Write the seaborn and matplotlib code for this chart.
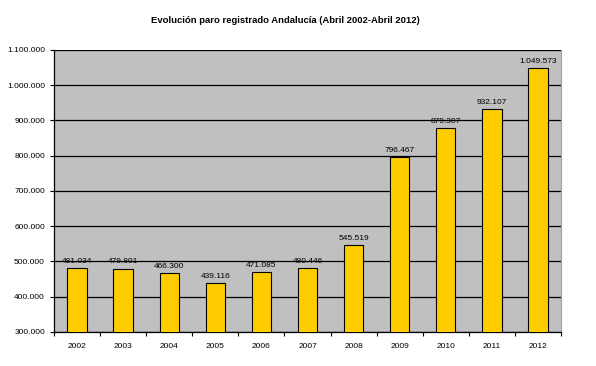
import matplotlib
matplotlib.use("Agg")
import matplotlib.pyplot as plt
import seaborn as sns
import pandas as pd
from matplotlib.ticker import FuncFormatter, MultipleLocator, FixedLocator

years = ["2002", "2003", "2004", "2005", "2006", "2007", "2008", "2009", "2010", "2011", "2012"]
paro = [481034, 479801, 466300, 439116, 471085, 480446, 545519, 796467, 879307, 932107, 1049573]

df = pd.DataFrame({"year": years, "paro": paro})

sns.set_style("white")
plt.rcParams["font.family"] = ["Liberation Sans", "DejaVu Sans"]
plt.rcParams["text.color"] = "black"
plt.rcParams["xtick.color"] = "black"
plt.rcParams["ytick.color"] = "black"

fig = plt.figure(figsize=(5.96, 3.66), dpi=100)
ax = fig.add_axes([0.0906, 0.0929, 0.8507, 0.7705])
ax.set_facecolor("#C0C0C0")

sns.barplot(data=df, x="year", y="paro", color="#FFCC00", edgecolor="black",
            linewidth=0.8, width=0.42, saturation=1, ax=ax, zorder=3)

def miles(v):
    return f"{int(round(v)):,}".replace(",", ".")

ax.set_ylim(300000, 1100000)
ax.yaxis.set_major_locator(MultipleLocator(100000))
ax.yaxis.set_major_formatter(FuncFormatter(lambda v, p: miles(v)))
ax.grid(axis="y", color="black", linewidth=0.9, zorder=1)
ax.set_axisbelow(True)

for i, v in enumerate(paro):
    ax.text(i, v + 9000, miles(v), ha="center", va="bottom", fontsize=6, zorder=4)

ax.set_xlabel("")
ax.set_ylabel("")
fig.text(0.478, 0.945, "Evolución paro registrado Andalucía (Abril 2002-Abril 2012)",
         fontsize=6.8, fontweight="bold", ha="center", va="center")

ax.tick_params(axis="both", labelsize=6, direction="out", length=3, width=0.8,
               color="black", left=True, bottom=False)
ax.xaxis.set_minor_locator(FixedLocator([i - 0.5 for i in range(len(years) + 1)]))
ax.tick_params(axis="x", which="minor", direction="out", length=3, width=0.8,
               color="black", bottom=True)
ax.tick_params(axis="x", pad=5)
ax.set_xlim(-0.5, len(years) - 0.5)

for side in ["left", "bottom"]:
    ax.spines[side].set_color("black")
    ax.spines[side].set_linewidth(0.9)
ax.spines["right"].set_color("#A0A0A0")
ax.spines["right"].set_linewidth(0.8)
ax.spines["top"].set_visible(False)

fig.savefig("out.png", dpi=100, facecolor="white")
